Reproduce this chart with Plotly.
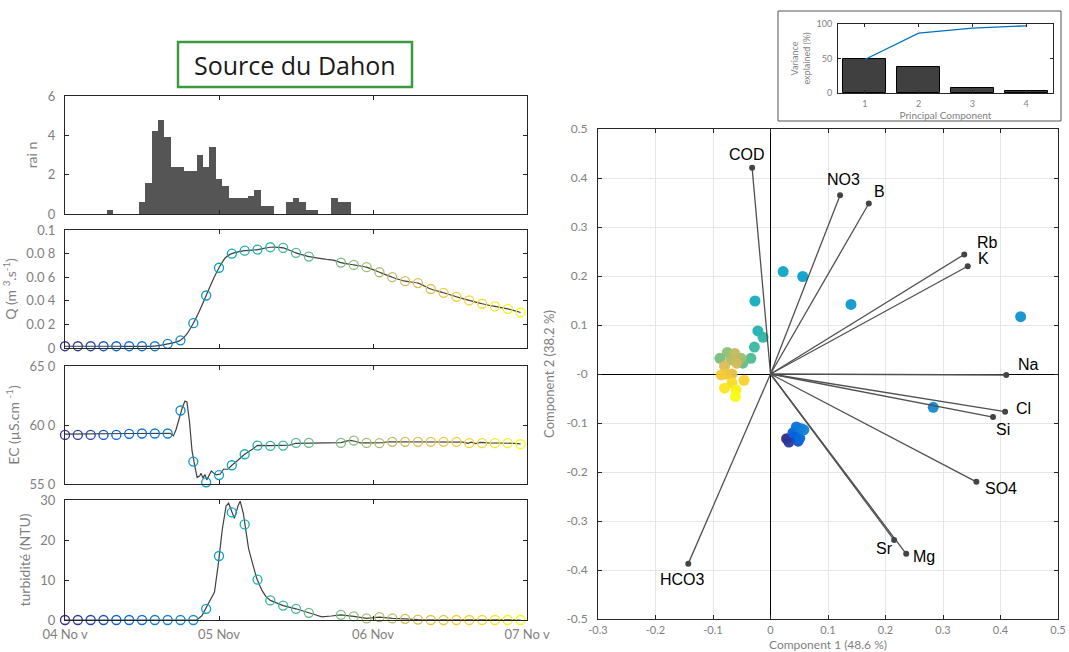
import numpy as np
import plotly.graph_objects as go

W, H = 1069, 652

# ---- time series (hours after 04 Nov 00:00) ----
RAIN_HOURS = [7, 12, 13, 14, 15, 16, 17, 18, 19, 20, 21, 22, 23, 24, 25, 26, 27, 28,
              29, 30, 31, 32, 35, 36, 37, 38, 39, 42, 43, 44]
RAIN_MM = [0.2, 0.6, 1.6, 4.2, 4.8, 3.9, 2.4, 2.4, 2.2, 2.2, 3.0, 2.4, 3.4, 1.8, 1.4, 0.8,
           0.8, 0.8, 0.9, 1.2, 0.4, 0.4, 0.6, 0.8, 0.6, 0.2, 0.2, 0.8, 0.6, 0.6]

SAMPLE_HOURS = [0, 2, 4, 6, 8, 10, 12, 14, 16, 18, 20, 22, 24, 26, 28, 30, 32, 34, 36, 38,
                43, 45, 47, 49, 51, 53, 55, 57, 59, 61, 63, 65, 67, 69, 71]
Q_SAMPLES = [0.0015, 0.0015, 0.0015, 0.0015, 0.0015, 0.0015, 0.0015, 0.0015, 0.0035, 0.0065,
             0.021, 0.0445, 0.068, 0.080, 0.0825, 0.0834, 0.0854, 0.0848, 0.0806, 0.0775,
             0.0724, 0.0704, 0.0685, 0.0642, 0.060, 0.0566, 0.055, 0.050, 0.0468, 0.0434,
             0.0403, 0.0375, 0.0352, 0.0332, 0.0301]
EC_SAMPLES = [591.6, 591.6, 591.6, 591.6, 591.6, 592.5, 592.8, 592.8, 592.8, 612.3,
              569.0, 551.4, 557.6, 565.9, 575.2, 582.6, 582.3, 582.6, 584.8, 584.8,
              584.8, 586.8, 584.8, 584.6, 585.7, 585.7, 585.7, 585.7, 585.7, 585.7,
              584.6, 584.6, 584.6, 584.6, 583.7]
TURB_SAMPLES = [0, 0, 0, 0, 0, 0, 0, 0, 0, 0, 0, 2.8, 16.0, 26.9, 23.9, 10.1, 4.9, 3.6, 2.8, 1.8,
                1.3, 0.9, 0.4, 0.7, 0.4, 0.3, 0.1, 0, 0, 0, 0, 0, 0, 0, 0]

Q_LINE_HOURS = [0, 8, 14, 16, 17, 18, 19, 20, 21, 22, 23, 24, 25, 26, 28, 30, 32, 34, 36, 38,
                40.7, 42.1, 43, 45, 47, 49, 51, 53, 55, 57, 59, 61, 63, 65, 67, 69, 71]
Q_LINE = [0.0015, 0.0015, 0.0016, 0.0035, 0.0045, 0.0065, 0.012, 0.021, 0.032, 0.0445,
          0.057, 0.068, 0.0765, 0.080, 0.0825, 0.0834, 0.0854, 0.0848, 0.0806, 0.0775,
          0.0752, 0.0741, 0.0724, 0.0704, 0.0685, 0.0642, 0.060, 0.0566, 0.055, 0.050,
          0.0468, 0.0434, 0.0403, 0.0375, 0.0352, 0.0332, 0.0301]

EC_LINE_HOURS = [0, 8, 10, 16.4, 16.9, 17.3, 17.8, 18.3, 18.7, 19.0, 19.4, 19.8, 20.2, 20.6,
                 21.0, 21.2, 21.5, 21.8, 22.1, 22.5, 22.8, 23.2, 23.6, 24.2, 24.7, 25.4, 26.0,
                 26.8, 28.0, 29.2, 30.0, 32, 34, 35, 36, 38, 42.5, 43, 44, 44.5, 45.3, 46, 48,
                 49.5, 50.5, 55, 60, 62, 62.8, 63.3, 64, 64.7, 66, 68, 70, 71]
EC_LINE = [592.2, 592.2, 592.8, 593.0, 590.8, 596, 606, 615, 620.3, 619.5, 603, 578, 566,
           555.5, 557, 559, 555, 558, 553.5, 558, 561, 559, 557.8, 558.5, 562.5, 562.5, 565.9,
           569.5, 575.2, 579.5, 582.8, 582.5, 582.8, 583, 584.5, 584.5, 584.5, 585, 586.5, 587,
           586, 584.8, 584.8, 585, 585.8, 585.8, 585.8, 585.5, 584.4, 585.5, 584.3, 585.3,
           584.8, 584.8, 584.5, 584]

TURB_LINE_HOURS = [0, 20.5, 21.3, 22.0, 23.3, 23.9, 24.5, 25.1, 25.5, 25.9, 26.4, 27.0, 27.3,
                   27.8, 28.6, 29.3, 29.9, 30.7, 31.3, 32, 34, 36, 37, 38, 39, 40, 41.5, 43,
                   45, 47, 49, 51, 53, 55, 60, 71]
TURB_LINE = [0, 0, 1.0, 3.2, 7.0, 14.1, 22.5, 28.5, 29.2, 27.5, 25.4, 28.7, 29.7, 26.6,
             17.9, 13.7, 10.3, 7.4, 5.9, 4.9, 3.6, 2.8, 2.2, 1.8, 1.3, 0.8, 1.0, 1.3, 0.9,
             0.4, 0.7, 0.4, 0.3, 0.1, 0.05, 0]

DAY_TICKS = [0, 24, 48, 72]
DAY_LABELS = ["04 No v", "05 Nov", "06 Nov", "07 No v"]

# ---- PCA ----
VARIABLES = ["COD", "NO3", "B", "Rb", "K", "Na", "Cl", "Si", "SO4", "Mg", "Sr", "HCO3"]
LOAD_PC1 = [-0.032, 0.121, 0.171, 0.337, 0.343, 0.410, 0.408, 0.387, 0.358, 0.236, 0.215, -0.143]
LOAD_PC2 = [0.421, 0.365, 0.348, 0.244, 0.220, -0.002, -0.077, -0.088, -0.220, -0.367, -0.339, -0.387]

SCORE_PC1 = [0.028, 0.032, 0.043, 0.048, 0.039, 0.051, 0.045, 0.052, 0.058, 0.283, 0.435,
             0.140, 0.056, 0.022, -0.027, -0.022, -0.013, -0.028, -0.034, -0.048, -0.088,
             -0.075, -0.051, -0.069, -0.062, -0.059, -0.080, -0.067, -0.077, -0.086, -0.046,
             -0.067, -0.080, -0.060, -0.061]
SCORE_PC2 = [-0.132, -0.139, -0.127, -0.137, -0.120, -0.131, -0.108, -0.111, -0.114, -0.068,
             0.117, 0.142, 0.199, 0.209, 0.149, 0.088, 0.075, 0.055, 0.032, 0.022, 0.032,
             0.044, 0.032, 0.029, 0.042, 0.022, 0.016, 0.0, 0.0, -0.002, -0.013, -0.018,
             -0.029, -0.032, -0.046]

PC_NUM = [1, 2, 3, 4]
VAR_EXPLAINED = [48.6, 38.2, 7.2, 3.4]

# label offsets (px) from vector tips
LABEL_SHIFT = {
    "COD": (-5, 13), "NO3": (3, 16), "B": (11, 12), "Rb": (23, 12), "K": (16, 8),
    "Na": (22, 10), "Cl": (18, 3), "Si": (10, -12), "SO4": (25, -7), "Mg": (18, -3),
    "Sr": (-10, -8), "HCO3": (-6, -16),
}

PARULA = [[0.0, "#352A87"], [0.125, "#0363E1"], [0.25, "#1485D4"], [0.375, "#06A7C6"],
          [0.5, "#38B99E"], [0.625, "#92BF73"], [0.75, "#D9BA56"], [0.875, "#FCCE2E"],
          [1.0, "#F9FB0E"]]

TICK = "#7f7f7f"
FRAME = "#262626"
FONT = "Lato, Open Sans, sans-serif"


def px(x):
    return x / W


def py(y):
    return 1 - y / H


fig = go.Figure()
idx = list(range(len(SAMPLE_HOURS)))

fig.add_trace(go.Bar(x=RAIN_HOURS, y=RAIN_MM, width=1, marker=dict(color="#555555", line=dict(width=0)),
                     xaxis="x", yaxis="y", showlegend=False))

for k, (lh, lv, sv) in enumerate([(Q_LINE_HOURS, Q_LINE, Q_SAMPLES),
                                   (EC_LINE_HOURS, EC_LINE, EC_SAMPLES),
                                   (TURB_LINE_HOURS, TURB_LINE, TURB_SAMPLES)]):
    ax = str(k + 2)
    fig.add_trace(go.Scatter(
        x=lh, y=lv, mode="lines",
        line=dict(color="#404040", width=1.2, shape="spline" if k == 0 else "linear", smoothing=0.6),
        xaxis="x" + ax, yaxis="y" + ax, showlegend=False, cliponaxis=False,
    ))
    fig.add_trace(go.Scatter(
        x=SAMPLE_HOURS, y=sv, mode="markers",
        marker=dict(symbol="circle-open", size=9, color=idx, colorscale=PARULA,
                    cmin=0, cmax=len(idx) - 1, line=dict(width=1.3)),
        xaxis="x" + ax, yaxis="y" + ax, showlegend=False, cliponaxis=False,
    ))

# biplot
fig.add_trace(go.Scatter(
    x=SCORE_PC1, y=SCORE_PC2, mode="markers",
    marker=dict(size=11, color=idx, colorscale=PARULA, cmin=0, cmax=len(idx) - 1, opacity=0.95,
                line=dict(width=0)),
    xaxis="x5", yaxis="y5", showlegend=False,
))
vx, vy = [], []
for a, b in zip(LOAD_PC1, LOAD_PC2):
    vx += [0, a, None]
    vy += [0, b, None]
fig.add_trace(go.Scatter(x=vx, y=vy, mode="lines", line=dict(color="#505050", width=1.3),
                         xaxis="x5", yaxis="y5", showlegend=False))
fig.add_trace(go.Scatter(x=LOAD_PC1, y=LOAD_PC2, mode="markers", marker=dict(size=6, color="#444444"),
                         xaxis="x5", yaxis="y5", showlegend=False))
for name, a, b in zip(VARIABLES, LOAD_PC1, LOAD_PC2):
    dx, dy = LABEL_SHIFT[name]
    fig.add_annotation(x=a, y=b, xref="x5", yref="y5", text=name, showarrow=False,
                       xshift=dx, yshift=dy, xanchor="center", yanchor="middle",
                       font=dict(family="Liberation Sans, Arial", size=16, color="black"))

# inset
fig.add_trace(go.Bar(x=PC_NUM, y=VAR_EXPLAINED, width=0.8,
                     marker=dict(color="#404040", line=dict(color="black", width=1)),
                     xaxis="x6", yaxis="y6", showlegend=False))
fig.add_trace(go.Scatter(x=PC_NUM, y=np.cumsum(VAR_EXPLAINED), mode="lines",
                         line=dict(color="#0072BD", width=1.3),
                         xaxis="x6", yaxis="y6", showlegend=False))


def frame_axis(**kw):
    d = dict(showline=True, mirror="ticks", linecolor=FRAME, linewidth=1, ticks="inside",
             ticklen=4, tickcolor=FRAME, showgrid=False, zeroline=False, automargin=False,
             ticklabelstandoff=4,
             tickfont=dict(family=FONT, size=13, color=TICK))
    d.update(kw)
    return d


LX = [px(65), px(527)]
panels = [(96, 214), (230, 348), (366, 484), (500, 620)]
ytitles = ["rai n", "Q (m <sup>3</sup>.s<sup>-1</sup>)", "EC (µS.cm <sup>-1</sup>)", "turbidité (NTU)"]
yranges = [[0, 6], [0, 0.1], [550, 650], [0, 30]]
ytickvals = [[0, 2, 4, 6], [0, 0.02, 0.04, 0.06, 0.08, 0.1], [550, 600, 650], [0, 10, 20, 30]]
yticktext = [["0", "2", "4", "6"], ["0", "0.0 2", "0.0 4", "0.0 6", "0.0 8", "0.1"],
             ["55 0", "60 0", "65 0"], ["0", "10", "20", "30"]]

lay = {}
for i, (top, bot) in enumerate(panels):
    s = "" if i == 0 else str(i + 1)
    lay["xaxis" + s] = frame_axis(domain=LX, range=[0, 72], tickvals=DAY_TICKS, ticktext=DAY_LABELS,
                                  showticklabels=(i == 3), anchor="y" + s, ticklabelstandoff=2)
    lay["yaxis" + s] = frame_axis(domain=[py(bot), py(top)], range=yranges[i], tickvals=ytickvals[i],
                                  ticktext=yticktext[i], anchor="x" + s, ticklabelstandoff=6,
                                  title=dict(text=ytitles[i], standoff=6,
                                             font=dict(family=FONT, size=14, color=TICK)))

bt = [round(v, 1) for v in np.arange(-0.3, 0.51, 0.1)]
bty = [round(v, 1) for v in np.arange(-0.5, 0.51, 0.1)]
lay["xaxis5"] = frame_axis(domain=[px(598), px(1058)], range=[-0.3, 0.5], anchor="y5",
                           tickvals=bt, ticktext=[f"{v:g}" for v in bt], showgrid=True,
                           gridcolor="#e6e6e6", zeroline=True, zerolinecolor="black", zerolinewidth=1.4,
                           tickfont=dict(family=FONT, size=11, color=TICK), ticklabelstandoff=1,
                           title=dict(text="Component 1 (48.6 %)", standoff=6,
                                      font=dict(family=FONT, size=12, color=TICK)))
lay["yaxis5"] = frame_axis(domain=[py(619), py(129)], range=[-0.5, 0.5], anchor="x5",
                           tickvals=bty, ticktext=[f"{v:g}" for v in bty], showgrid=True,
                           gridcolor="#e6e6e6", zeroline=True, zerolinecolor="black", zerolinewidth=1.4,
                           tickfont=dict(family=FONT, size=12, color=TICK), ticklabelstandoff=7,
                           title=dict(text="Component 2 (38.2 %)", standoff=8,
                                      font=dict(family=FONT, size=13, color=TICK)))
lay["xaxis6"] = frame_axis(domain=[px(838), px(1053)], range=[0.5, 4.5], anchor="y6",
                           tickvals=PC_NUM, ticklen=3, ticklabelstandoff=2,
                           tickfont=dict(family=FONT, size=9, color=TICK),
                           title=dict(text="Principal Component", standoff=2,
                                      font=dict(family=FONT, size=10, color=TICK)))
lay["yaxis6"] = frame_axis(domain=[py(93), py(24)], range=[0, 100], anchor="x6",
                           tickvals=[0, 50, 100], ticklen=3, ticklabelstandoff=3,
                           tickfont=dict(family=FONT, size=9, color=TICK),
                           title=dict(text="Variance<br>explained (%)", standoff=4,
                                      font=dict(family=FONT, size=9, color=TICK)))

fig.update_layout(
    width=W, height=H, margin=dict(l=0, r=0, t=0, b=0),
    paper_bgcolor="white", plot_bgcolor="white",
    bargap=0, showlegend=False,
    shapes=[
        dict(type="rect", xref="paper", yref="paper", x0=px(178), x1=px(412), y0=py(87), y1=py(42),
             line=dict(color="#3d9a3f", width=2.5)),
        dict(type="rect", xref="paper", yref="paper", x0=px(778), x1=px(1061), y0=py(121), y1=py(11),
             line=dict(color="#555555", width=1), layer="below"),
    ],
    **lay,
)
fig.add_annotation(x=px(295), y=py(65), xref="paper", yref="paper", text="Source du Dahon",
                   xanchor="center", yanchor="middle", showarrow=False,
                   font=dict(family="Open Sans, sans-serif", size=25, color="#1a1a1a"))

fig.write_html("out.html", config={"displayModeBar": False},
               post_script="document.body.style.margin='0px';")
